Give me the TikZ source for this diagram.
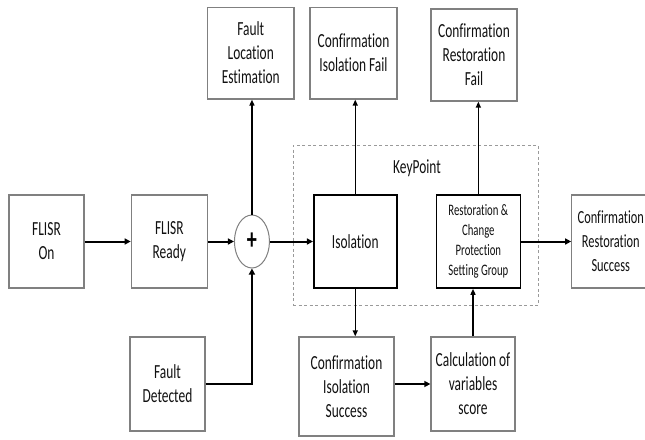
\documentclass[tikz,border=0pt]{standalone}
\usepackage{fontspec}
\setmainfont{Carlito}[FakeStretch=0.67, Ligatures={NoCommon}]
\usepackage{tikz}
\usetikzlibrary{positioning}
\usetikzlibrary{arrows.meta}
\usetikzlibrary{shapes.geometric}

\definecolor{boxgray}{HTML}{808080}
\definecolor{dashgray}{HTML}{9A9A9A}
\definecolor{textblack}{HTML}{111111}

\begin{document}
\begin{tikzpicture}[x=1pt, y=-1pt,
    graybox/.style={rectangle, align=center, draw=boxgray, line width=1.3pt, inner sep=0pt, text=textblack, font=\fontsize{20}{24}\selectfont},
    blackbox/.style={graybox, draw=black, line width=1.6pt},
    plusnode/.style={ellipse, draw=boxgray, line width=1pt, inner sep=0pt, minimum width=35pt, minimum height=53pt, font=\fontsize{30}{30}\selectfont\bfseries},
    keybox/.style={rectangle, draw=dashgray, line width=1pt, dash pattern=on 3pt off 2.5pt, inner sep=0pt},
    thickarrow/.style={line width=2pt, -{Triangle[length=6pt,width=6pt]}},
    thinarrow/.style={line width=1.4pt, -{Triangle[length=6pt,width=5pt]}},
    ]

    \useasboundingbox (0,0) rectangle (645,439);
    \clip (0,7.8) rectangle (645,439);

    %KeyPoint frame
    \node[keybox, minimum width=245pt, minimum height=160pt] (keypoint) at (415.5,225) {};
    \node[text=textblack, font=\fontsize{20}{24}\selectfont] (keylabel) at (417,168) {KeyPoint};

    %Nodes
    \node[graybox, minimum width=75pt, minimum height=93pt] (flisron) at (46.5,241.5) {FLISR\\ On};
    \node[graybox, minimum width=76pt, minimum height=93pt] (flisrready) [right=46pt of flisron] {FLISR\\ Ready};
    \node[plusnode] (junction) [right=26pt of flisrready] {+};
    \node[blackbox, minimum width=83pt, minimum height=93pt] (isolation) [right=43pt of junction] {Isolation};
    \node[blackbox, minimum width=84pt, minimum height=93pt, font=\fontsize{16}{20}\selectfont] (restoration) [right=38pt of isolation] {Restoration \&\\ Change\\ Protection\\ Setting Group};
    \node[graybox, minimum width=78pt, minimum height=93pt, font=\fontsize{18.5}{24}\selectfont] (rsuccess) [right=50pt of restoration] {Confirmation\\ Restoration\\ Success};

    \node[graybox, minimum width=86.5pt, minimum height=92pt] (faultloc) at (250.75,53) {Fault\\ Location\\ Estimation};
    \node[graybox, minimum width=87pt, minimum height=92pt] (isofail) at (353.5,53) {Confirmation\\ Isolation Fail};
    \node[graybox, minimum width=86pt, minimum height=92pt] (restfail) at (474,55) {Confirmation\\ Restoration\\ Fail};

    \node[graybox, minimum width=75pt, minimum height=94pt] (faultdet) at (167.5,384) {Fault\\ Detected};
    \node[graybox, minimum width=95pt, minimum height=99pt] (isosuccess) at (346.5,386.5) {Confirmation\\ Isolation\\ Success};
    \node[graybox, minimum width=84pt, minimum height=94pt] (varscore) at (473,384) {Calculation of\\ variables\\ score};

    %Lines
    \draw[thickarrow] (flisron.east) -- (flisrready.west);
    \draw[thickarrow] (flisrready.east) -- (junction.west);
    \draw[thickarrow] (junction.east) -- (isolation.west);
    \draw[thickarrow] (restoration.east) -- (rsuccess.west);
    \draw[thickarrow] (faultdet.east) -| (junction.south);
    \draw[thickarrow] (isosuccess.east |- varscore.west) -- (varscore.west);

    \draw[thinarrow] (junction.north) -- (junction.north |- faultloc.south);
    \draw[thinarrow] (isolation.north) -- (isolation.north |- isofail.south);
    \draw[thinarrow] (restoration.north) -- (restoration.north |- restfail.south);
    \draw[thinarrow] (isolation.south) -- (isolation.south |- isosuccess.north);
    \draw[thinarrow] (varscore.north) -- (varscore.north |- restoration.south);

\end{tikzpicture}
\end{document}
